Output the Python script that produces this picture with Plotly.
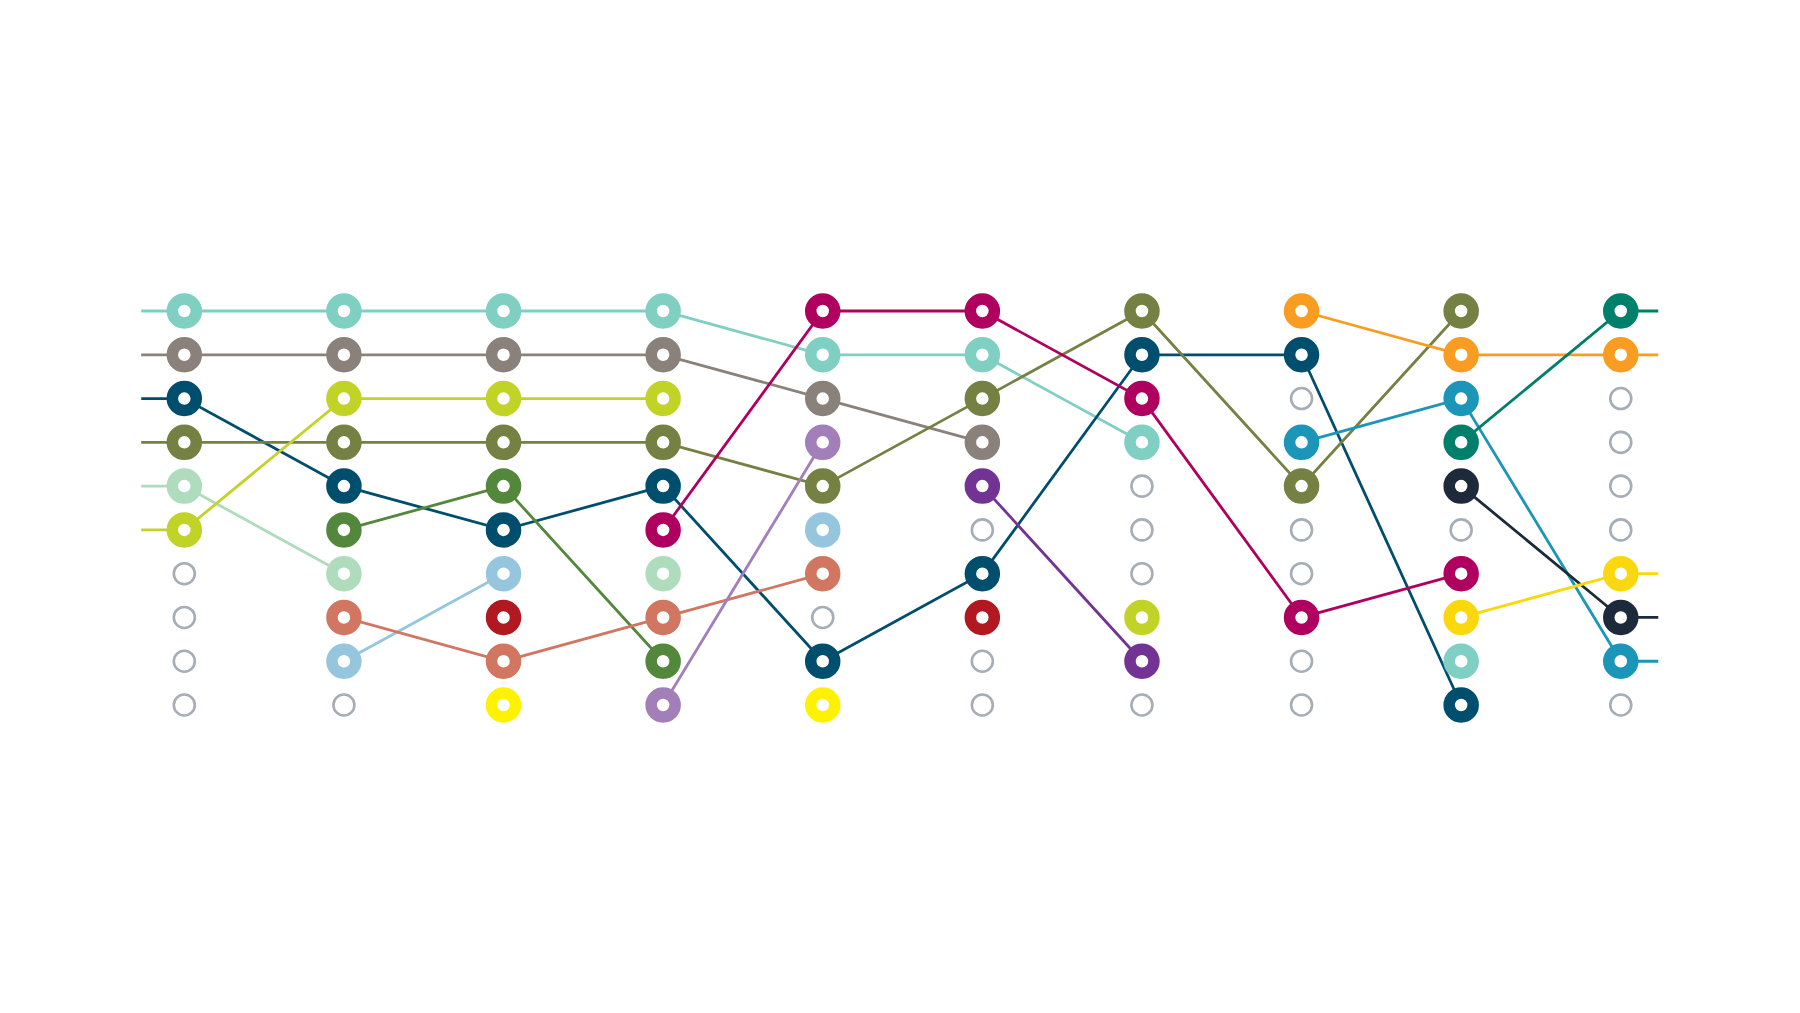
import plotly.graph_objects as go

columns = list(range(10))

series_names = [
    "teal_light", "grey", "navy", "olive", "light_green", "lime", "green",
    "light_blue", "salmon", "dark_red", "yellow", "magenta", "lavender",
    "purple", "orange", "cyan", "dark_teal", "dark_navy", "gold",
]

N = None
ranks = {
    "teal_light":  [1, 1, 1, 1, 2, 2, 4, N, 9, N],
    "grey":        [2, 2, 2, 2, 3, 4, N, N, N, N],
    "navy":        [3, 5, 6, 5, 9, 7, 2, 2, 10, N],
    "olive":       [4, 4, 4, 4, 5, 3, 1, 5, 1, N],
    "light_green": [5, 7, N, 7, N, N, N, N, N, N],
    "lime":        [6, 3, 3, 3, N, N, 8, N, N, N],
    "green":       [N, 6, 5, 9, N, N, N, N, N, N],
    "light_blue":  [N, 9, 7, N, 6, N, N, N, N, N],
    "salmon":      [N, 8, 9, 8, 7, N, N, N, N, N],
    "dark_red":    [N, N, 8, N, N, 8, N, N, N, N],
    "yellow":      [N, N, 10, N, 10, N, N, N, N, N],
    "magenta":     [N, N, N, 6, 1, 1, 3, 8, 7, N],
    "lavender":    [N, N, N, 10, 4, N, N, N, N, N],
    "purple":      [N, N, N, N, N, 5, 9, N, N, N],
    "orange":      [N, N, N, N, N, N, N, 1, 2, 2],
    "cyan":        [N, N, N, N, N, N, N, 4, 3, 9],
    "dark_teal":   [N, N, N, N, N, N, N, N, 4, 1],
    "dark_navy":   [N, N, N, N, N, N, N, N, 5, 8],
    "gold":        [N, N, N, N, N, N, N, N, 8, 7],
}

colors = {
    "teal_light": "#7fcfc3", "grey": "#8a827a", "navy": "#004e6e",
    "olive": "#748142", "light_green": "#aedcbd", "lime": "#c2d328",
    "green": "#53873b", "light_blue": "#96c6de", "salmon": "#d17660",
    "dark_red": "#b11820", "yellow": "#fff200", "magenta": "#b0005f",
    "lavender": "#a37fba", "purple": "#733394", "orange": "#f89c22",
    "cyan": "#1b95b8", "dark_teal": "#00806a", "dark_navy": "#1c2a3b",
    "gold": "#fbd80e",
}
empty_color = "#a5aeb7"
n_ranks = 10

LEFT_STUB = -0.27
RIGHT_STUB = 9.235

fig = go.Figure()

# lines
for name in series_names:
    ys = ranks[name]
    xs = list(columns)
    yy = list(ys)
    if ys[0] is not None:
        xs = [LEFT_STUB] + xs
        yy = [ys[0]] + yy
    if ys[-1] is not None:
        xs = xs + [RIGHT_STUB]
        yy = yy + [ys[-1]]
    fig.add_trace(go.Scatter(
        x=xs, y=yy, mode="lines", connectgaps=False,
        line=dict(color=colors[name], width=2.8),
        hoverinfo="skip", showlegend=False,
    ))

# empty slots
ex, ey = [], []
for c in columns:
    used = {ranks[n][c] for n in series_names if ranks[n][c] is not None}
    for r in range(1, n_ranks + 1):
        if r not in used:
            ex.append(c)
            ey.append(r)
fig.add_trace(go.Scatter(
    x=ex, y=ey, mode="markers",
    marker=dict(size=21, color="white", line=dict(color=empty_color, width=2.6)),
    hoverinfo="skip", showlegend=False,
))

# ring markers
for name in series_names:
    xs = [c for c in columns if ranks[name][c] is not None]
    ys = [ranks[name][c] for c in xs]
    fig.add_trace(go.Scatter(
        x=xs, y=ys, mode="markers", name=name,
        marker=dict(size=24, color="white", line=dict(color=colors[name], width=11.5)),
        showlegend=False,
    ))

fig.update_xaxes(range=[-1.1548, 10.123], visible=False, showgrid=False, zeroline=False)
fig.update_yaxes(range=[17.035, -6.104], visible=False, showgrid=False, zeroline=False)
fig.update_layout(
    width=1800, height=1013,
    margin=dict(l=0, r=0, t=0, b=0),
    paper_bgcolor="white", plot_bgcolor="white",
)
fig.write_html("out.html")
